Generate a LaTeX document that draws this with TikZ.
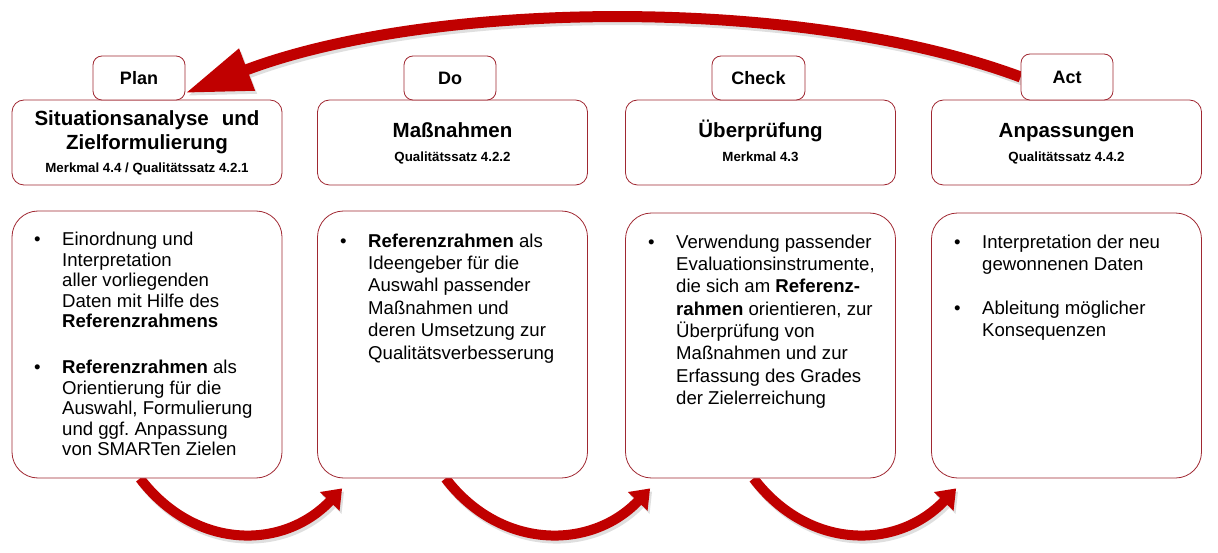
\documentclass[tikz,border=0pt]{standalone}
\usepackage{fontspec}
\setmainfont{Liberation Sans}
\usetikzlibrary{arrows.meta,backgrounds}
\definecolor{bord}{RGB}{160,40,50}
\definecolor{arr}{RGB}{192,0,0}
\newcommand{\subttl}{\fontsize{13.3}{15}\selectfont\bfseries}
\newcommand{\lowr}[1]{\raisebox{-2pt}[\height][\depth]{#1}}
\frenchspacing
\begin{document}
\begin{tikzpicture}[x=1pt,y=-1pt,
  lbl/.style={draw=bord, line width=0.8pt, fill=white, rounded corners=9pt,
    minimum width=92pt, minimum height=44pt, inner sep=0pt,
    font=\fontsize{18}{20}\selectfont\bfseries},
  titlebox/.style={draw=bord, line width=0.8pt, fill=white, rounded corners=12pt,
    minimum width=270pt, minimum height=85pt, inner sep=0pt,
    font=\fontsize{20.5}{24}\selectfont\bfseries},
  contbox/.style={draw=bord, line width=0.8pt, fill=white, rounded corners=26pt,
    minimum width=270pt, minimum height=267pt, inner sep=0pt},
  bodytext/.style={anchor=north west, inner sep=0pt, align=left},
  redflow/.style={draw=arr, line width=10pt},
  shadeflow/.style={draw=black!70, line width=10pt}
]
\useasboundingbox (0,0) rectangle (1218,553);

% title boxes
\node[titlebox] (t1) at (147,142.5) {\lowr{\begin{tabular}{@{}c@{}}Situationsanalyse\hspace{13pt}und\\Zielformulierung\\[-1pt]
  \subttl Merkmal 4.4 / Qualitätssatz 4.2.1\end{tabular}}};
\node[titlebox] (t2) at (452.5,142.5) {\lowr{\begin{tabular}{@{}c@{}}Maßnahmen\\[0.5pt]
  \subttl Qualitätssatz 4.2.2\end{tabular}}};
\node[titlebox] (t3) at (760.5,142.5) {\lowr{\begin{tabular}{@{}c@{}}Überprüfung\\[0.5pt]
  \subttl Merkmal 4.3\end{tabular}}};
\node[titlebox] (t4) at (1066.5,142.5) {\lowr{\begin{tabular}{@{}c@{}}Anpassungen\\[0.5pt]
  \subttl Qualitätssatz 4.4.2\end{tabular}}};

% phase labels
\node[lbl] (plan) at (139,78) {Plan};
\node[lbl] (do) at (450,78) {Do};
\node[lbl, minimum width=93pt] (check) at (758.5,78) {Check};
\node[lbl, minimum height=46pt] (act) at (1067,77) {Act};

% content boxes
\node[contbox] (c1) at (147,344.5) {};
\node[contbox] (c2) at (452.5,344.5) {};
\node[contbox, minimum height=265pt] (c3) at (760.5,345.5) {};
\node[contbox, minimum height=265pt] (c4) at (1066.5,345.5) {};

% content texts
\node[bodytext] (x1) at (34,231) {\fontsize{18.6}{20.5}\selectfont
\begin{tabular}{@{}p{28pt}@{}l@{}}
\textbullet & Einordnung und\\
 & Interpretation\\
 & aller vorliegenden\\
 & Daten mit Hilfe des\\
 & \textbf{Referenzrahmens}\\[25.5pt]
\textbullet & \textbf{Referenzrahmen} als\\
 & Orientierung für die\\
 & Auswahl, Formulierung\\
 & und ggf. Anpassung\\
 & von SMARTen Zielen
\end{tabular}};

\node[bodytext] (x2) at (340,231.3) {\fontsize{18.6}{22.4}\selectfont
\begin{tabular}{@{}p{28pt}@{}l@{}}
\textbullet & \textbf{Referenzrahmen} als\\
 & Ideengeber für die\\
 & Auswahl passender\\
 & Maßnahmen und\\
 & deren Umsetzung zur\\
 & Qualitätsverbesserung
\end{tabular}};

\node[bodytext] (x3) at (648,232.4) {\fontsize{18.6}{22.3}\selectfont
\begin{tabular}{@{}p{28pt}@{}l@{}}
\textbullet & Verwendung passender\\
 & Evaluationsinstrumente,\\
 & die sich am \textbf{Referenz-}\\
 & \textbf{rahmen} orientieren, zur\\
 & Überprüfung von\\
 & Maßnahmen und zur\\
 & Erfassung des Grades\\
 & der Zielerreichung
\end{tabular}};

\node[bodytext] (x4) at (954,232.6) {\fontsize{18.6}{22}\selectfont
\begin{tabular}{@{}p{28pt}@{}l@{}}
\textbullet & Interpretation der neu\\
 & gewonnenen Daten\\[22pt]
\textbullet & Ableitung möglicher\\
 & Konsequenzen
\end{tabular}};

% arrows behind the boxes
\begin{pgfonlayer}{background}
\begin{scope}[transparency group, opacity=0.18, transform canvas={shift={(2pt,-3pt)}}]
  \draw[shadeflow, line width=11pt, -{Triangle[length=66pt,width=42pt]}]
    (act.west) .. controls (800,-5) and (430,0) .. ([yshift=-15pt]plan.east);
  \draw[shadeflow, -{Triangle[length=18pt,width=26pt]}]
    ([xshift=-7pt]c1.south) .. controls +(55,72) and +(-59,62) .. ([xshift=25pt,yshift=-10pt]c2.south west);
  \draw[shadeflow, -{Triangle[length=18pt,width=26pt]}]
    ([xshift=-7pt]c2.south) .. controls +(55,72) and +(-59,62) .. ([xshift=25pt,yshift=-10pt]c3.south west);
  \draw[shadeflow, -{Triangle[length=18pt,width=26pt]}]
    ([xshift=-7pt]c3.south) .. controls +(55,72) and +(-59,62) .. ([xshift=25pt,yshift=-10pt]c4.south west);
\end{scope}
\draw[redflow, line width=11pt, -{Triangle[length=66pt,width=42pt]}]
  (act.west) .. controls (800,-5) and (430,0) .. ([yshift=-15pt]plan.east);
\draw[redflow, -{Triangle[length=18pt,width=26pt]}]
  ([xshift=-7pt]c1.south) .. controls +(55,72) and +(-59,62) .. ([xshift=25pt,yshift=-10pt]c2.south west);
\draw[redflow, -{Triangle[length=18pt,width=26pt]}]
  ([xshift=-7pt]c2.south) .. controls +(55,72) and +(-59,62) .. ([xshift=25pt,yshift=-10pt]c3.south west);
\draw[redflow, -{Triangle[length=18pt,width=26pt]}]
  ([xshift=-7pt]c3.south) .. controls +(55,72) and +(-59,62) .. ([xshift=25pt,yshift=-10pt]c4.south west);
\end{pgfonlayer}
\end{tikzpicture}
\end{document}
